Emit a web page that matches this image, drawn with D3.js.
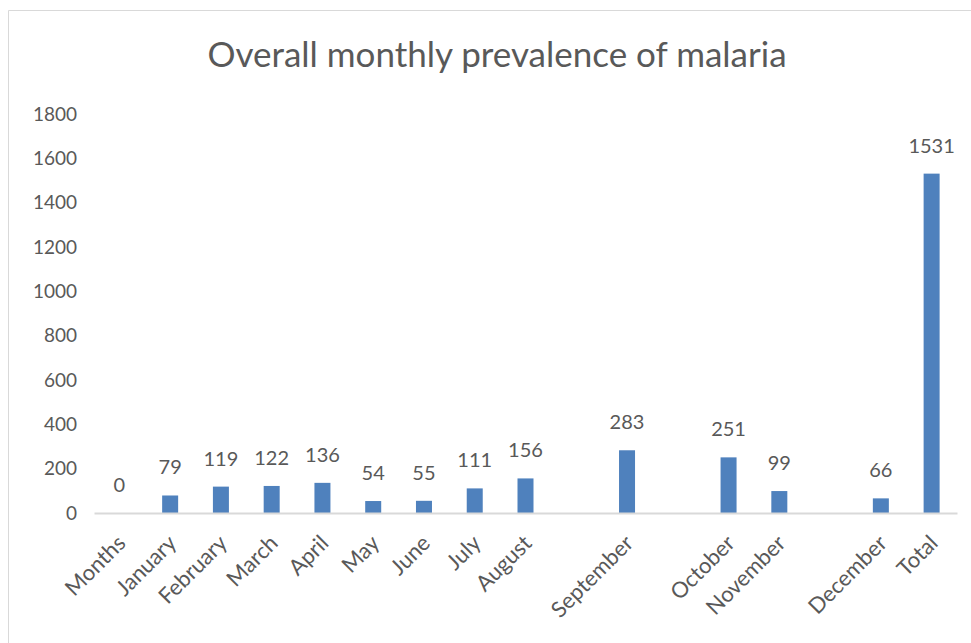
<!DOCTYPE html>
<html>
<head>
<meta charset="utf-8">
<script src="https://cdn.jsdelivr.net/npm/d3@7"></script>
<style>
  html, body { margin: 0; padding: 0; background: #fff; overflow: hidden; }
  svg { display: block; }
</style>
</head>
<body>
<svg id="chart" width="971" height="643"></svg>
<script>
// categories (blank slots are empty categories in the source sheet)
const categories = ['Months', 'January', 'February', 'March', 'April', 'May', 'June', 'July',
  'August', '', 'September', '', 'October', 'November', '', 'December', 'Total'];
const values = [0, 79, 119, 122, 136, 54, 55, 111, 156, null, 283, null, 251, 99, null, 66, 1531];
const yTicks = [0, 200, 400, 600, 800, 1000, 1200, 1400, 1600, 1800];

const fontFamily = 'Lato, "Open Sans", sans-serif';
const textColor = '#595959';

const svg = d3.select('#chart');
const width = 971;
const height = 643;

// plot area
const margin = { top: 114, right: 14, bottom: 130, left: 94 };
const innerWidth = width - margin.left - margin.right;
const innerHeight = height - margin.top - margin.bottom;

// chart frame (only top and left edges fall inside the picture)
svg.append('line')
  .attr('x1', 8.5).attr('y1', 10.5).attr('x2', width).attr('y2', 10.5)
  .attr('stroke', '#d9d9d9');
svg.append('line')
  .attr('x1', 8.5).attr('y1', 10.5).attr('x2', 8.5).attr('y2', height)
  .attr('stroke', '#d9d9d9');

svg.append('text')
  .attr('x', 497)
  .attr('y', 67)
  .attr('text-anchor', 'middle')
  .attr('font-family', fontFamily)
  .attr('font-size', 35)
  .attr('fill', textColor)
  .text('Overall monthly prevalence of malaria');

const data = categories.map((c, i) => ({ id: i, label: c, value: values[i] }));

const x = d3.scaleBand()
  .domain(data.map(d => d.id))
  .range([0, innerWidth]);

const y = d3.scaleLinear()
  .domain([0, 1800])
  .range([innerHeight, 0]);

const g = svg.append('g')
  .attr('transform', `translate(${margin.left}, ${margin.top})`);

// y axis (labels only)
const yAxis = d3.axisLeft(y)
  .tickValues(yTicks)
  .tickFormat(d3.format('d'))
  .tickSize(0)
  .tickPadding(17);
g.append('g')
  .call(yAxis)
  .attr('font-family', fontFamily)
  .attr('font-size', 19)
  .call(s => s.select('.domain').remove())
  .selectAll('text')
  .attr('fill', textColor);

// bars
const barWidth = 16;
g.selectAll('rect.bar')
  .data(data.filter(d => d.value !== null))
  .enter()
  .append('rect')
  .attr('class', 'bar')
  .attr('x', d => x(d.id) + x.bandwidth() / 2 - barWidth / 2)
  .attr('y', d => y(d.value))
  .attr('width', barWidth)
  .attr('height', d => innerHeight - y(d.value))
  .attr('fill', '#4f81bd');

// value labels
g.selectAll('text.value')
  .data(data.filter(d => d.value !== null))
  .enter()
  .append('text')
  .attr('class', 'value')
  .attr('x', d => x(d.id) + x.bandwidth() / 2)
  .attr('y', d => y(d.value) - 21)
  .attr('text-anchor', 'middle')
  .attr('font-family', fontFamily)
  .attr('font-size', 20)
  .attr('fill', textColor)
  .text(d => d.value);

// x axis (skip the empty slots' ticks)
const xAxis = d3.axisBottom(x)
  .tickValues(data.filter(d => d.label !== '').map(d => d.id))
  .tickFormat(i => categories[i])
  .tickSize(0)
  .tickSizeOuter(0);
const xg = g.append('g')
  .attr('transform', `translate(0, ${innerHeight})`)
  .call(xAxis)
  .attr('font-family', fontFamily)
  .attr('font-size', 22);
xg.select('.domain').attr('stroke', '#d9d9d9').attr('stroke-width', 2);
xg.selectAll('text')
  .attr('fill', textColor)
  .attr('text-anchor', 'end')
  .attr('dy', '0.35em')
  .attr('transform', 'translate(0, 24) rotate(-45)');
</script>
</body>
</html>
